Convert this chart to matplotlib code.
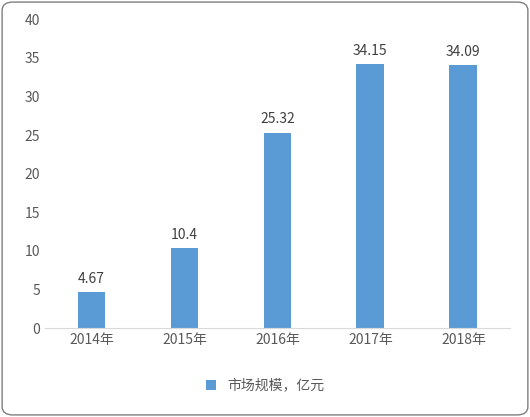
import matplotlib
matplotlib.use("Agg")
import matplotlib.pyplot as plt
from matplotlib.patches import FancyBboxPatch

plt.rcParams['font.family'] = ['Noto Sans CJK SC', 'DejaVu Sans']

years = ["2014年", "2015年", "2016年", "2017年", "2018年"]
values = [4.67, 10.4, 25.32, 34.15, 34.09]
labels = ["4.67", "10.4", "25.32", "34.15", "34.09"]
series_name = "市场规模，亿元"

fig = plt.figure(figsize=(5.30, 4.17), dpi=100)
fig.patches.append(FancyBboxPatch((0.004, 0.005), 0.992, 0.99, boxstyle="round,pad=0,rounding_size=0.02",
                                  transform=fig.transFigure, fill=False, edgecolor="#7f7f7f", lw=1))
ax = fig.add_axes([0.085, 0.213, 0.877, 0.741])
x = range(len(years))
bars = ax.bar(x, values, width=0.3, color="#5B9BD5", label=series_name)
for xi, v, t in zip(x, values, labels):
    ax.text(xi, v + 0.8, t, ha="center", va="bottom", fontsize=10, color="#404040")
ax.set_xlim(-0.5, 4.5)
ax.set_ylim(0, 40)
ax.set_yticks(range(0, 41, 5))
ax.set_xticks(list(x))
ax.set_xticklabels(years)
ax.tick_params(length=0, labelsize=10, colors="#595959")
for s in ["top", "right", "left"]:
    ax.spines[s].set_visible(False)
ax.spines["bottom"].set_color("#d9d9d9")
fig.legend(handles=[bars], labels=[series_name], loc="center", bbox_to_anchor=(0.5, 0.075),
           frameon=False, fontsize=10, handlelength=0.7, handleheight=0.7, labelcolor="#595959")
fig.savefig("out.png", dpi=100)
